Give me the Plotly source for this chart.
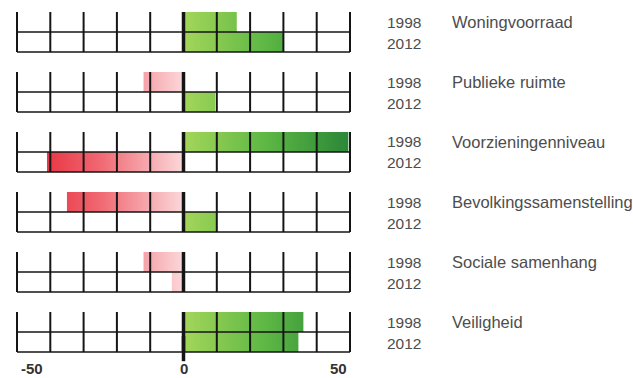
import plotly.graph_objects as go
from plotly.subplots import make_subplots

# Index scores per theme, 1998 vs 2012
categories = ["Woningvoorraad", "Publieke ruimte", "Voorzieningenniveau",
              "Bevolkingssamenstelling", "Sociale samenhang", "Veiligheid"]
years = ["1998", "2012"]
values_1998 = [16, -12, 49.5, -35, -12, 36]
values_2012 = [30, 9.5, -41, 10, -3.5, 34.5]

grid_ticks = [-50, -40, -30, -20, -10, 0, 10, 20, 30, 40, 50]
axis_label_vals = [-50, 0, 50]
axis_label_text = ["-50", "0", "50"]

GREEN_SCALE = [[0, "#a4d65a"], [0.5, "#5cb744"], [1, "#2b8638"]]
RED_SCALE = [[0, "#e41c2b"], [0.5, "#f06872"], [1, "#fbd8da"]]
LINE = "#151515"
TEXT = "#4d4d4d"
FONT = "Liberation Sans, Arial, sans-serif"

n = len(categories)
fig = make_subplots(rows=n, cols=1, vertical_spacing=18 / 342)

XR = [-50.9, 51.2]
YR = [-0.05, 2.05]


def bar_trace(value, y0, y1):
    if value >= 0:
        grad = dict(type="horizontal", colorscale=GREEN_SCALE, start=0, stop=50)
    else:
        grad = dict(type="horizontal", colorscale=RED_SCALE, start=-50, stop=0)
    return go.Scatter(
        x=[0, value, value, 0, 0], y=[y0, y0, y1, y1, y0],
        mode="lines", fill="toself", fillgradient=grad,
        line=dict(width=0), hoverinfo="skip", showlegend=False,
    )


shapes = []
annotations = []
for i, cat in enumerate(categories):
    row = i + 1
    sfx = "" if row == 1 else str(row)
    xref, yref = "x" + sfx, "y" + sfx
    # 1998 on the upper half, 2012 on the lower half
    fig.add_trace(bar_trace(values_1998[i], 1, 2), row=row, col=1)
    fig.add_trace(bar_trace(values_2012[i], 0, 1), row=row, col=1)

    for t in grid_ticks:
        shapes.append(dict(type="line", xref=xref, yref=yref, x0=t, x1=t, y0=0, y1=2,
                           line=dict(color=LINE, width=3.5 if t == 0 else 2), layer="above"))
    for yy in (0, 1):
        shapes.append(dict(type="line", xref=xref, yref=yref, x0=grid_ticks[0], x1=grid_ticks[-1],
                           y0=yy, y1=yy, line=dict(color=LINE, width=1.5), layer="above"))

    annotations.append(dict(text=years[0], xref="paper", yref=yref, x=1.091, y=1.5,
                            xanchor="left", yanchor="middle", showarrow=False,
                            font=dict(family=FONT, size=15.5, color=TEXT)))
    annotations.append(dict(text=years[1], xref="paper", yref=yref, x=1.091, y=0.45,
                            xanchor="left", yanchor="middle", showarrow=False,
                            font=dict(family=FONT, size=15.5, color=TEXT)))
    annotations.append(dict(text=cat, xref="paper", yref=yref, x=1.282, y=1.5,
                            xanchor="left", yanchor="middle", showarrow=False,
                            font=dict(family=FONT, size=16.5, color=TEXT)))

    fig.update_xaxes(range=XR, showgrid=False, zeroline=False, showticklabels=False,
                     showline=False, fixedrange=True, row=row, col=1)
    fig.update_yaxes(range=YR, showgrid=False, zeroline=False, showticklabels=False,
                     showline=False, fixedrange=True, row=row, col=1)

# zero line of the last panel runs on below the panel
last = str(n)
shapes.append(dict(type="line", xref="x" + last, yref="paper", x0=0, x1=0,
                   y0=-0.024, y1=0.05, line=dict(color=LINE, width=3.5), layer="above"))

anchors = {-50: ("left", 2), 0: ("center", 0), 50: ("right", -1)}
for v, t in zip(axis_label_vals, axis_label_text):
    xa, xs = anchors[v]
    annotations.append(dict(text="<b>%s</b>" % t, xref="x" + last, yref="y" + last, x=v, y=0,
                            xanchor=xa, yanchor="middle", xshift=xs, yshift=-16,
                            showarrow=False, font=dict(family=FONT, size=15, color="#333333")))

fig.update_layout(
    width=633, height=378,
    margin=dict(l=14, r=279, t=11, b=25),
    paper_bgcolor="white", plot_bgcolor="white",
    shapes=shapes, annotations=annotations, showlegend=False,
)

fig.write_html("out.html")
